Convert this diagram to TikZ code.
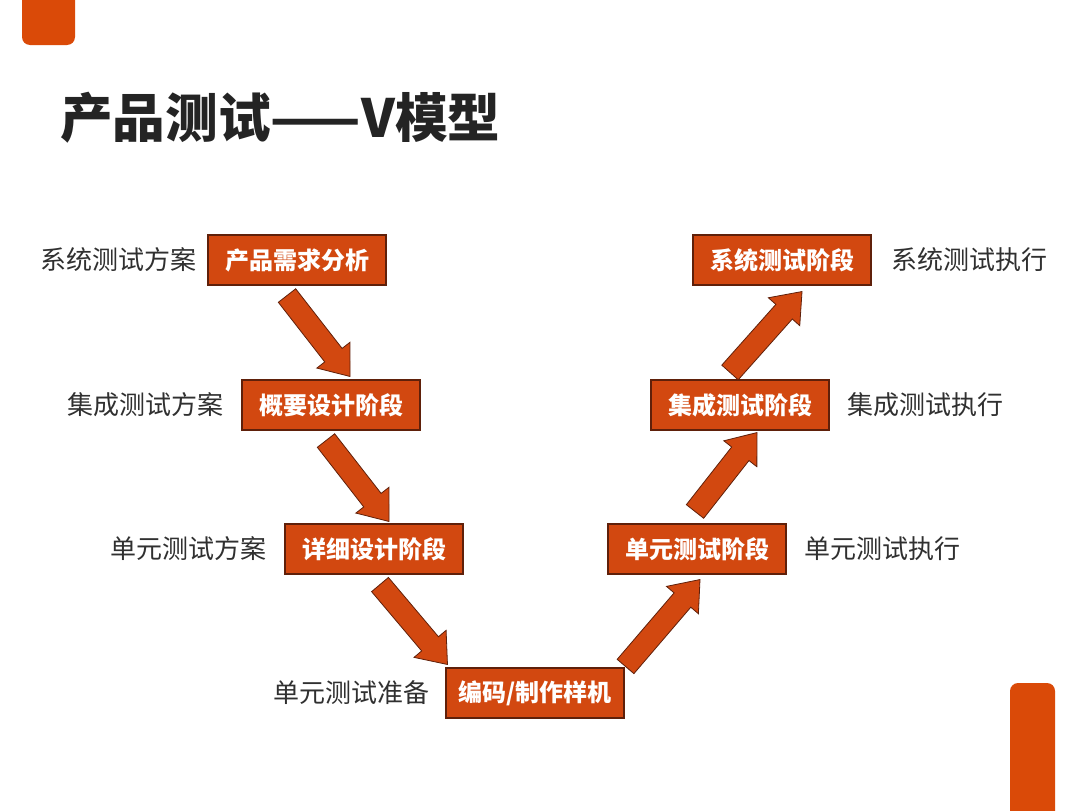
\documentclass[tikz,border=0pt]{standalone}
\usepackage{fontspec}
\setmainfont{Noto Sans CJK SC}
\usetikzlibrary{calc,positioning}
\definecolor{vorange}{RGB}{210,72,16}
\definecolor{vcorner}{RGB}{218,74,8}
\definecolor{vedge}{RGB}{95,32,10}
\definecolor{vtext}{RGB}{48,48,48}
\definecolor{vtitle}{RGB}{36,36,36}
\tikzset{
  stage/.style={draw=vedge,fill=vorange,line width=0.8pt,minimum width=133.5pt,
    minimum height=37.5pt,inner sep=0pt,text=white,font=\fontsize{18}{18}\selectfont\bfseries},
  plan/.style={text=vtext,inner sep=0pt,font=\fontsize{19.5}{20}\selectfont},
  varrow/.style={draw=vedge,fill=vorange,line width=0.6pt,line join=miter},
}
% block arrow from #1 to #2
\newcommand{\blockarrow}[2]{%
  \coordinate (neck) at ($(#2)!20.25pt!(#1)$);
  \draw[varrow] ($(#1)!8.25pt!90:(#2)$) -- ($(neck)!8.25pt!90:(#2)$)
    -- ($(neck)!15.75pt!90:(#2)$) -- (#2) -- ($(neck)!15.75pt!-90:(#2)$)
    -- ($(neck)!8.25pt!-90:(#2)$) -- ($(#1)!8.25pt!-90:(#2)$) -- cycle;}
\begin{document}
\begin{tikzpicture}[x=0.75pt,y=-0.75pt]
  \useasboundingbox (0,0) rectangle (1080,810);
  % corner marks
  \fill[vcorner,rounded corners=6pt] (22,-12) rectangle (75,45);
  \fill[vcorner,rounded corners=6pt] (1010,683) rectangle (1055,822);
  % title
  \node[anchor=west,inner sep=0pt,text=vtitle,font=\fontsize{39.5}{40}\selectfont\bfseries]
    (title) at (60,118) {产品测试——V模型};
  % left branch
  \node[stage] (req) at (297,260) {产品需求分析};
  \node[stage] (outline) at (331,405) {概要设计阶段};
  \node[stage] (detail) at (374,549) {详细设计阶段};
  \node[stage] (code) at (535,693) {编码/制作样机};
  % right branch
  \node[stage] (unit) at (697,549) {单元测试阶段};
  \node[stage] (integ) at (740,405) {集成测试阶段};
  \node[stage] (sys) at (782,260) {系统测试阶段};
  % plans and runs
  \node[plan,left=8pt of req] (sysplan) {系统测试方案};
  \node[plan,left=13pt of outline] (integplan) {集成测试方案};
  \node[plan,left=13pt of detail] (unitplan) {单元测试方案};
  \node[plan,left=12pt of code] (unitprep) {单元测试准备};
  \node[plan,right=15pt of sys] (sysrun) {系统测试执行};
  \node[plan,right=13pt of integ] (integrun) {集成测试执行};
  \node[plan,right=13pt of unit] (unitrun) {单元测试执行};
  % arrows
  \coordinate (t1) at ($(req.south)+(-10,10)$);
  \coordinate (h1) at ($(outline.north)+(19,-3)$);
  \coordinate (t2) at ($(outline.south)+(-5,10)$);
  \coordinate (h2) at ($(detail.north)+(15,-2)$);
  \coordinate (t3) at ($(detail.south)+(6,10)$);
  \coordinate (h3) at ($(code.north west)+(2,-3)$);
  \coordinate (t4) at ($(code.north east)+(1,-1)$);
  \coordinate (h4) at ($(unit.south)+(3,5)$);
  \coordinate (t5) at ($(unit.north)+(-2,-12)$);
  \coordinate (h5) at ($(integ.south)+(17,2)$);
  \coordinate (t6) at ($(integ.north)+(-10,-7)$);
  \coordinate (h6) at ($(sys.south)+(20,6)$);
  \foreach \i in {1,...,6}{\blockarrow{t\i}{h\i}}
\end{tikzpicture}
\end{document}
